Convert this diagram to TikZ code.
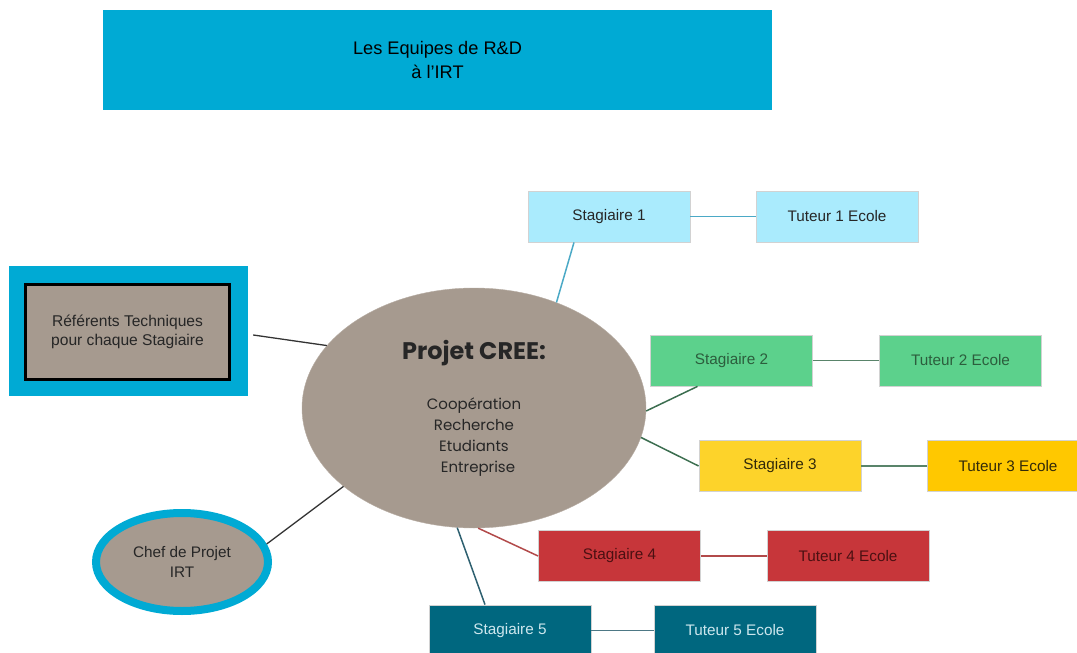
\documentclass[tikz,border=0pt]{standalone}
\usepackage{fontspec}
\setmainfont{Liberation Sans}
\newfontfamily\comicfont{Poppins}
\usetikzlibrary{positioning}
\usetikzlibrary{shapes.geometric}
\usetikzlibrary{graphs}
\definecolor{irtblue}{RGB}{0,170,212}
\definecolor{taupe}{RGB}{166,154,143}
\definecolor{stcyan}{RGB}{170,235,253}
\definecolor{stgreen}{RGB}{92,209,140}
\definecolor{styellow}{RGB}{253,211,42}
\definecolor{tuyellow}{RGB}{255,200,0}
\definecolor{stred}{RGB}{199,54,58}
\definecolor{stteal}{RGB}{0,103,127}
\definecolor{lineone}{RGB}{75,169,198}
\definecolor{linetwo}{RGB}{60,110,80}
\definecolor{linefour}{RGB}{178,74,74}
\definecolor{linefive}{RGB}{46,96,112}
\definecolor{txtgreen}{RGB}{44,94,61}
\definecolor{txtyellow}{RGB}{50,42,10}
\definecolor{txtred}{RGB}{75,16,18}
\definecolor{txtteal}{RGB}{205,231,238}

\begin{document}
\begin{tikzpicture}[x=1pt,y=-1pt,
  box/.style={draw=gray!35, line width=0.8pt, minimum width=162pt, minimum height=51pt, inner sep=0pt, font=\fontsize{15.3}{18}\selectfont},
  link/.style={line width=1.5pt}]
\useasboundingbox (0,0) rectangle (1077,653);
\node (title) [fill=irtblue, minimum width=669pt, minimum height=100pt, align=center, font=\fontsize{18.2}{24}\selectfont] at (437.5,60) {Les Equipes de R\&D\\à l'IRT};
\node (s1) [box, fill=stcyan, text=black!85] at (609,216.5) {Stagiaire 1};
\node (t1) [box, fill=stcyan, text=black!85] at (837,216.5) {Tuteur 1 Ecole};
\node (s2) [box, fill=stgreen, text=txtgreen] at (731.5,360.5) {Stagiaire 2};
\node (t2) [box, fill=stgreen, text=txtgreen] at (960.5,360.5) {Tuteur 2 Ecole};
\node (s3) [box, fill=styellow, text=txtyellow] at (780,466) {Stagiaire 3};
\node (t3) [box, fill=tuyellow, text=txtyellow] at (1008,466) {Tuteur 3 Ecole};
\node (s4) [box, fill=stred, text=txtred] at (619.5,556) {Stagiaire 4};
\node (t4) [box, fill=stred, text=txtred] at (848,556) {Tuteur 4 Ecole};
\node (s5) [box, fill=stteal, text=txtteal] at (510,630.5) {Stagiaire 5};
\node (t5) [box, fill=stteal, text=txtteal] at (735,630.5) {Tuteur 5 Ecole};
\node (cree) [ellipse, fill=taupe, draw=taupe!80!white, minimum width=344pt, minimum height=240pt, inner sep=0pt, align=center, text=black!85, font=\comicfont\fontsize{15}{21}\selectfont] at (474,408) {{\fontsize{24}{24}\selectfont\bfseries Projet CREE:}\\[29pt]Coopération\\Recherche\\Etudiants\\\hspace*{8pt}Entreprise};
\node (refout) [fill=irtblue, minimum width=239pt, minimum height=130pt] at (128.5,331) {};
\node (ref) [fill=taupe, draw=black, line width=3pt, minimum width=204pt, minimum height=95pt, align=center, text=black!85, font=\fontsize{15.6}{19.5}\selectfont] at (127.5,332) {Référents Techniques\\pour chaque Stagiaire};
\node (chef) [ellipse, fill=taupe, draw=irtblue, line width=8pt, minimum width=172pt, minimum height=98pt, inner sep=0pt, align=center, text=black!85, font=\fontsize{15.3}{20}\selectfont] at (182,562) {Chef de Projet\\IRT};
\graph { (s1) --[link, draw=lineone] (t1); (s2) --[link, draw=linetwo!85] (t2); (s3) --[link, draw=linetwo!85] (t3); (s4) --[link, draw=linefour] (t4); (s5) --[link, draw=linefive!85] (t5) };
\draw [link, draw=lineone] (cree.52) -- ([xshift=-35pt]s1.south);
\draw [link, draw=linetwo] (cree.-1) -- ([xshift=-34pt]s2.south);
\draw [link, draw=linetwo] (cree.-10) -- (s3.west);
\draw [link, draw=linefour] (cree.-88) -- (s4.west);
\draw [link, draw=linefive] (cree.-98) -- ([xshift=-25pt]s5.north);
\draw [line width=1.3pt, draw=black!80] ([xshift=5pt,yshift=-4pt]refout.east) -- (cree.157);
\draw [line width=1.3pt, draw=black!80] (chef.12) -- (cree.-149);
\end{tikzpicture}
\end{document}
